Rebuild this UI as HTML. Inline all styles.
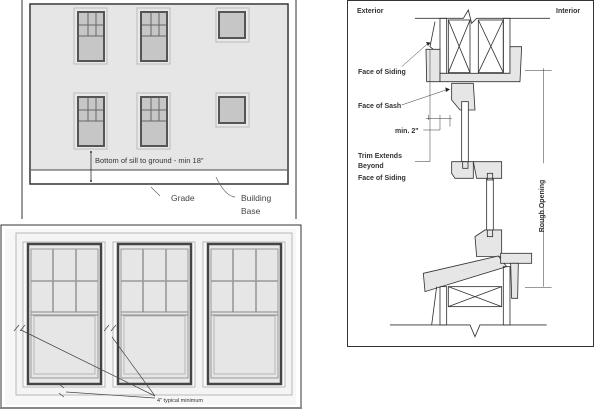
<!DOCTYPE html>
<html><head><style>body{margin:0;background:#fff}svg{display:block}text{font-family:"Liberation Sans",sans-serif}</style></head><body>
<svg width="600" height="419" viewBox="0 0 600 419" xmlns="http://www.w3.org/2000/svg">
<!-- top-left panel -->
<line x1="22" y1="0" x2="22" y2="219" stroke="#333" stroke-width="1"/>
<line x1="296" y1="0" x2="296" y2="219" stroke="#333" stroke-width="1"/>
<rect x="30" y="4" width="258" height="180" fill="#fff" stroke="#333" stroke-width="1.5"/>
<rect x="31" y="5" width="256" height="165" fill="#e6e6e6"/>
<line x1="31" y1="170" x2="287" y2="170" stroke="#444" stroke-width="1"/>
<g id="w1">
<rect x="74" y="8" width="33" height="56" fill="#e8e8e8" stroke="#bbb"/>
<rect x="78" y="12" width="26" height="49" fill="#c6c6c6" stroke="#555" stroke-width="2"/>
<g stroke="#666" stroke-width="1"><line x1="79" y1="36" x2="103" y2="36"/><line x1="79" y1="25" x2="103" y2="25"/><line x1="88" y1="13" x2="88" y2="36"/><line x1="96" y1="13" x2="96" y2="36"/></g>
</g>
<use href="#w1" x="63"/>
<use href="#w1" y="85"/>
<use href="#w1" x="63" y="85"/>
<g id="s1"><rect x="216" y="8" width="33" height="34" fill="#e8e8e8" stroke="#bbb"/>
<rect x="219" y="12" width="26" height="26" fill="#c6c6c6" stroke="#555" stroke-width="2"/></g>
<use href="#s1" y="85"/>
<line x1="91" y1="152" x2="91" y2="181" stroke="#333" stroke-width="0.8"/>
<circle cx="91" cy="152" r="1" fill="#333"/><circle cx="91" cy="181" r="1" fill="#333"/>
<text x="95" y="163" font-size="7.5" fill="#333">Bottom of sill to ground - min 18"</text>
<path d="M151 187 L160 196" stroke="#666" stroke-width="0.7" fill="none"/>
<path d="M216 177 Q225 196 235 197" stroke="#666" stroke-width="0.7" fill="none"/>
<text x="171" y="201" font-size="8.5" fill="#444">Grade</text>
<text x="241" y="201" font-size="8.5" fill="#444">Building</text>
<text x="241" y="214" font-size="8.5" fill="#444">Base</text>
<!-- bottom-left panel -->
<rect x="1" y="225" width="300" height="183" fill="#fff" stroke="#333" stroke-width="1"/>
<line x1="0" y1="408" x2="302" y2="408" stroke="#888" stroke-width="2"/>
<rect x="5" y="229" width="291" height="176" fill="#f7f7f7"/>
<rect x="16" y="233" width="276" height="162" fill="#f4f4f4" stroke="#aaa" stroke-width="0.8"/>
<g id="bw">
<rect x="23" y="242" width="82" height="145" fill="#fafafa" stroke="#aaa" stroke-width="0.8"/>
<rect x="28" y="244" width="73" height="140" fill="#e8e8e8" stroke="#444" stroke-width="2.5"/>
<rect x="31" y="249" width="67" height="129" fill="#e6e6e6" stroke="#999" stroke-width="1"/>
<g stroke="#999" stroke-width="1.6"><line x1="31" y1="281" x2="98" y2="281"/><line x1="53" y1="249" x2="53" y2="312"/><line x1="76" y1="249" x2="76" y2="312"/></g>
<line x1="31" y1="312" x2="98" y2="312" stroke="#888" stroke-width="1"/>
<line x1="31" y1="315" x2="98" y2="315" stroke="#888" stroke-width="1"/>
<rect x="34" y="316" width="61" height="58" fill="none" stroke="#aaa" stroke-width="0.8"/>
</g>
<use href="#bw" x="90"/>
<use href="#bw" x="180"/>
<g stroke="#444" stroke-width="0.7" fill="none">
<line x1="21" y1="330" x2="155" y2="396"/>
<line x1="112" y1="337" x2="155" y2="396"/>
<line x1="66" y1="392" x2="155" y2="398"/>
<line x1="14" y1="331" x2="19" y2="325"/><line x1="20" y1="331" x2="25" y2="325"/>
<line x1="104" y1="331" x2="109" y2="325"/><line x1="111" y1="331" x2="116" y2="325"/>
<line x1="59" y1="384" x2="64" y2="388"/><line x1="59" y1="393" x2="64" y2="397"/>
</g>
<text x="157" y="402" font-size="5.5" fill="#333">4" typical minimum</text>
<!-- right panel -->
<rect x="347.5" y="0.5" width="246" height="346" fill="#fff" stroke="#333" stroke-width="1"/>
<text x="357" y="13" font-size="7" font-weight="bold" fill="#333">Exterior</text>
<text x="556" y="13" font-size="7" font-weight="bold" fill="#333">Interior</text>
<g transform="translate(340,0) scale(0.3333)" stroke="#333" stroke-width="2.5" fill="none">
<path d="M225 55 L370 55 L385 30 L395 70 L410 55 L630 55"/>
<path d="M150 975 L390 975 L405 1010 L420 975 L620 975"/>
<rect x="300" y="55" width="20" height="165"/>
<rect x="490" y="55" width="20" height="165"/>
<rect x="325" y="60" width="65" height="158"/><path d="M325 60 L390 218 M390 60 L325 218"/>
<rect x="415" y="60" width="75" height="158"/><path d="M415 60 L490 218 M490 60 L415 218"/>
<path d="M285 65 L270 140 L280 148" />
<polygon points="258,148 300,148 300,245 260,245" fill="#e6e6e6"/>
<polygon points="300,220 510,220 510,140 545,140 540,245 300,245" fill="#e6e6e6"/>
<polygon points="335,250 400,250 405,330 360,330 335,300" fill="#e6e6e6"/>
<rect x="365" y="305" width="20" height="200" fill="#fff"/>
<rect x="440" y="520" width="20" height="190" fill="#fff"/>
<polygon points="335,485 400,485 400,535 345,535 335,520" fill="#e6e6e6"/>
<polygon points="400,485 485,485 485,535 410,535" fill="#e6e6e6"/>
<rect x="368" y="485" width="16" height="20"/>
<rect x="442" y="520" width="16" height="20"/>
<polygon points="405,710 435,690 485,690 485,770 410,770" fill="#e6e6e6"/>
<rect x="442" y="690" width="16" height="20"/>
<polygon points="250,820 475,768 500,800 255,875" fill="#e6e6e6"/>
<rect x="482" y="760" width="93" height="30" fill="#e6e6e6"/>
<polygon points="512,790 535,790 533,895 515,895" fill="#e6e6e6"/>
<rect x="300" y="860" width="20" height="115"/>
<rect x="490" y="800" width="20" height="175"/>
<rect x="325" y="860" width="160" height="60"/><path d="M325 860 L485 920 M485 860 L325 920"/>
<path d="M290 860 L275 975"/>
<path d="M610 205 L610 490 M610 600 L610 860 M555 212 L635 212 M555 862 L635 862" stroke-width="1.5"/>
<path d="M185 200 L262 132" stroke-width="1.5"/><polygon points="272,128 258,126 264,138" fill="#222" stroke="none"/>
<path d="M185 315 L318 270" stroke-width="1.5"/><polygon points="330,268 316,262 318,276" fill="#222" stroke="none"/>
<path d="M270 150 L270 485 L225 485 M265 345 L265 360 M300 345 L300 390 L250 390 M258 355 L335 355 M330 345 L330 380" stroke-width="1.5"/>
</g>
<g font-size="7" font-weight="bold" fill="#333">
<text x="358" y="74">Face of Siding</text>
<text x="358" y="108">Face of Sash</text>
<text x="395" y="133">min. 2"</text>
<text x="358" y="158">Trim Extends</text>
<text x="358" y="168">Beyond</text>
<text x="358" y="180">Face of Siding</text>
<text transform="translate(544,206) rotate(-90)" text-anchor="middle">Rough Opening</text>
</g>
</svg>
</body></html>
